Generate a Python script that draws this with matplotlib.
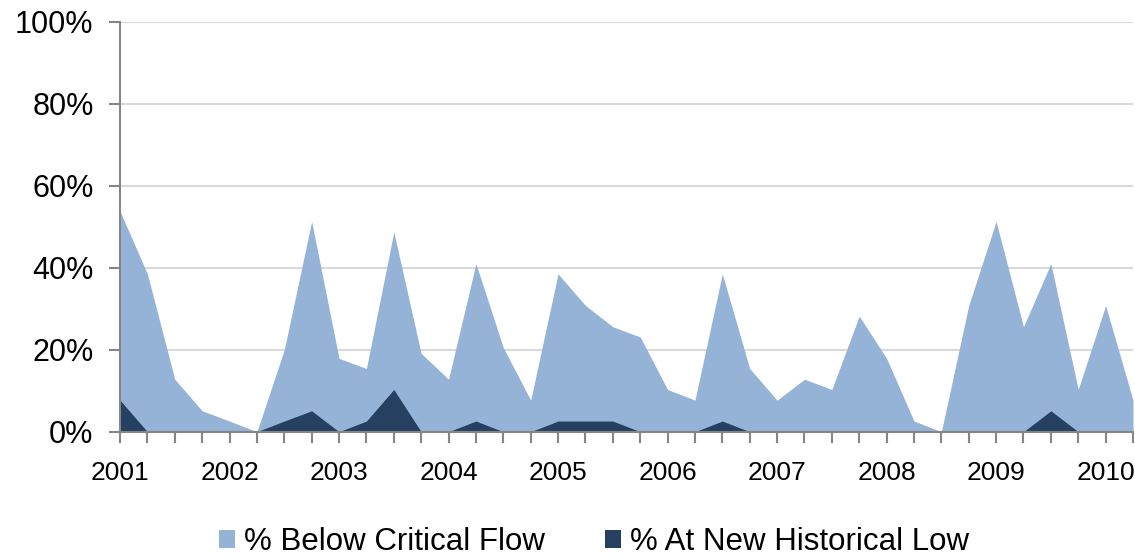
import matplotlib
matplotlib.use("Agg")
import matplotlib.pyplot as plt
from matplotlib.patches import Patch
import numpy as np

plt.rcParams['font.family'] = ['Liberation Sans', 'DejaVu Sans']

# quarterly values, 2001 Q1 .. 2010 Q2
below_critical = [53.8, 38.5, 12.8, 5.1, 2.6, 0.0, 20.0, 51.3, 17.9, 15.4,
                  48.7, 19.1, 12.8, 41.0, 20.5, 7.7, 38.5, 30.8, 25.6, 23.1,
                  10.3, 7.7, 38.5, 15.4, 7.7, 12.8, 10.3, 28.2, 17.9, 2.6,
                  0.0, 30.8, 51.3, 25.6, 41.0, 10.3, 30.8, 7.7]
historical_low = [7.7, 0, 0, 0, 0, 0, 2.6, 5.1, 0, 2.6,
                  10.3, 0, 0, 2.6, 0, 0, 2.6, 2.6, 2.6, 0,
                  0, 0, 2.6, 0, 0, 0, 0, 0, 0, 0,
                  0, 0, 0, 0, 5.1, 0, 0, 0]
years = ['2001', '2002', '2003', '2004', '2005', '2006', '2007', '2008', '2009', '2010']

light = '#95B3D7'
dark = '#254061'
axis_col = '#868686'

x = np.arange(len(below_critical))

fig = plt.figure(figsize=(11.35, 5.58), dpi=100)
ax = fig.add_axes([120 / 1135, 126.3 / 558, 1013 / 1135, 410 / 558])

ax.fill_between(x, 0, below_critical, color=light, linewidth=0, zorder=2)
ax.fill_between(x, 0, historical_low, color=dark, linewidth=0, zorder=3)

ax.set_xlim(0, len(x) - 1)
ax.set_ylim(0, 100)

yt = np.arange(0, 101, 20)
ax.set_yticks(yt)
ax.set_yticklabels([f'{v}%' for v in yt], fontsize=22)
for v in yt[1:]:
    ax.axhline(v, color='#D9D9D9', linewidth=1.5, zorder=1)

ax.set_xticks(x)
ax.set_xticklabels([years[i // 4] if i % 4 == 0 else '' for i in x], fontsize=19)

for side in ['top', 'right']:
    ax.spines[side].set_visible(False)
for side in ['left', 'bottom']:
    ax.spines[side].set_color(axis_col)
    ax.spines[side].set_linewidth(1.5)
    ax.spines[side].set_zorder(4)

ax.tick_params(axis='both', colors=axis_col, width=1.5, length=8)
ax.tick_params(axis='x', labelcolor='black', pad=13)
ax.tick_params(axis='y', labelcolor='black', pad=11)

handles = [Patch(facecolor=light, label='% Below Critical Flow'),
           Patch(facecolor=dark, label='% At New Historical Low')]
fig.legend(handles=handles, loc='center', bbox_to_anchor=(594 / 1135, 16 / 558), ncol=2,
           frameon=False, fontsize=22.5, handlelength=0.52, handleheight=0.55,
           handletextpad=0.3, columnspacing=1.9, borderpad=0)

fig.savefig('out.png', dpi=100)
